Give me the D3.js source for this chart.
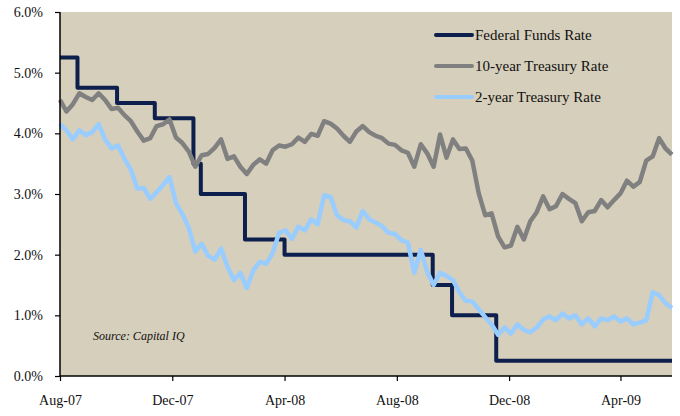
<!DOCTYPE html>
<html>
<head>
<meta charset="utf-8">
<script src="https://cdn.jsdelivr.net/npm/d3@7"></script>
<style>
  body { margin: 0; background: #fff; }
  text { font-family: "Liberation Serif", "Times New Roman", serif; fill: #111; }
</style>
</head>
<body>
<div class="canva"></div>
<script>
// weekly dates (thursdays) for the treasury series
const weeks = [
  '2007-08-30','2007-09-06','2007-09-13','2007-09-20','2007-09-27','2007-10-04','2007-10-11','2007-10-18','2007-10-25',
  '2007-11-01','2007-11-08','2007-11-15','2007-11-22','2007-11-29','2007-12-06','2007-12-13','2007-12-20','2007-12-27',
  '2008-01-03','2008-01-10','2008-01-17','2008-01-24','2008-01-31','2008-02-07','2008-02-14','2008-02-21','2008-02-28',
  '2008-03-06','2008-03-13','2008-03-20','2008-03-27','2008-04-03','2008-04-10','2008-04-17','2008-04-24',
  '2008-05-01','2008-05-08','2008-05-15','2008-05-22','2008-05-29','2008-06-05','2008-06-12','2008-06-19','2008-06-26',
  '2008-07-03','2008-07-10','2008-07-17','2008-07-24','2008-07-31','2008-08-07','2008-08-14','2008-08-21','2008-08-28',
  '2008-09-04','2008-09-11','2008-09-18','2008-09-25','2008-10-02','2008-10-09','2008-10-16','2008-10-23','2008-10-30',
  '2008-11-06','2008-11-13','2008-11-20','2008-11-27','2008-12-04','2008-12-11','2008-12-18','2008-12-25',
  '2009-01-01','2009-01-08','2009-01-15','2009-01-22','2009-01-29','2009-02-05','2009-02-12','2009-02-19','2009-02-26',
  '2009-03-05','2009-03-12','2009-03-19','2009-03-26','2009-04-02','2009-04-09','2009-04-16','2009-04-23','2009-04-30',
  '2009-05-07','2009-05-14','2009-05-21','2009-05-28','2009-06-04','2009-06-11','2009-06-18','2009-06-25'
];

// 10-year treasury (%)
const tenYear = [
  4.55,4.36,4.48,4.66,4.60,4.55,4.66,4.55,4.40,4.42,4.30,4.20,4.03,3.88,3.92,4.12,4.15,4.23,
  3.93,3.84,3.70,3.45,3.64,3.66,3.76,3.90,3.58,3.62,3.45,3.33,3.48,3.57,3.50,3.72,3.80,
  3.78,3.82,3.93,3.86,3.99,3.96,4.20,4.16,4.08,3.96,3.86,4.03,4.12,4.02,3.96,3.92,3.83,3.81,
  3.72,3.68,3.45,3.82,3.67,3.45,3.98,3.60,3.90,3.74,3.75,3.55,3.01,2.65,2.68,2.30,2.12,
  2.15,2.46,2.25,2.55,2.70,2.96,2.75,2.80,3.00,2.92,2.85,2.55,2.70,2.72,2.90,2.78,2.90,3.01,
  3.22,3.12,3.20,3.55,3.62,3.92,3.75,3.65
];

// 2-year treasury (%)
const twoYear = [
  4.15,4.05,3.90,4.05,3.97,4.02,4.15,3.90,3.75,3.80,3.58,3.40,3.09,3.10,2.92,3.03,3.15,3.28,
  2.85,2.67,2.44,2.05,2.18,1.98,1.92,2.10,1.80,1.58,1.70,1.45,1.74,1.88,1.85,2.02,2.36,
  2.40,2.26,2.46,2.40,2.58,2.50,2.98,2.95,2.65,2.57,2.55,2.45,2.72,2.58,2.53,2.47,2.36,2.34,
  2.24,2.20,1.70,2.08,1.72,1.50,1.70,1.65,1.58,1.38,1.24,1.23,1.10,0.97,0.85,0.68,0.80,
  0.70,0.85,0.76,0.72,0.80,0.93,0.98,0.92,1.03,0.95,1.00,0.85,0.95,0.82,0.95,0.92,0.98,0.90,
  0.95,0.85,0.88,0.92,1.38,1.33,1.20,1.12
];

// federal funds target: date of change and new rate
const fedDates = ['2007-08-30','2007-09-18','2007-10-31','2007-12-11','2008-01-22','2008-01-30',
  '2008-03-18','2008-04-30','2008-10-08','2008-10-29','2008-12-16','2009-06-25'];
const fedRates = [5.25,4.75,4.50,4.25,3.50,3.00,2.25,2.00,1.50,1.00,0.25,0.25];

const tickDates = ['2007-08-30','2007-12-30','2008-04-30','2008-08-30','2008-12-30','2009-04-30'];
const tickLabels = ['Aug-07','Dec-07','Apr-08','Aug-08','Dec-08','Apr-09'];
const yTicks = [0,1,2,3,4,5,6];

const seriesNames = ['Federal Funds Rate','10-year Treasury Rate','2-year Treasury Rate'];
const colors = ['#0d1f4d','#808080','#99ccff'];
const widths = [4, 4.5, 4.5];

const parse = d3.timeParse('%Y-%m-%d');

const svg = d3.select('.canva').append('svg') // the whole picture
  .attr('width', 680)
  .attr('height', 416);

const x = d3.scaleTime()
  .domain([parse('2007-08-30'), parse('2009-06-25')])
  .range([60, 672]);

const y = d3.scaleLinear()
  .domain([0, 6])
  .range([376, 12]);

// plot background
svg.append('rect')
  .attr('x', x.range()[0])
  .attr('y', y(6))
  .attr('width', x.range()[1] - x.range()[0])
  .attr('height', y(0) - y(6))
  .attr('fill', '#d6cfbb');

// lines
const line = d3.line()
  .x(d => x(d.date))
  .y(d => y(d.v));

const fed = fedDates.map((d, i) => ({ date: parse(d), v: fedRates[i] }));
const ten = weeks.map((d, i) => ({ date: parse(d), v: tenYear[i] }));
const two = weeks.map((d, i) => ({ date: parse(d), v: twoYear[i] }));

[fed, ten, two].forEach((s, i) => {
  svg.append('path')
    .datum(s)
    .attr('d', line.curve(i == 0 ? d3.curveStepAfter : d3.curveLinear))
    .attr('fill', 'none')
    .attr('stroke', colors[i])
    .attr('stroke-width', widths[i])
    .attr('stroke-linejoin', 'round');
});

// y axis
const yAxis = d3.axisLeft(y)
  .tickValues(yTicks)
  .tickSize(5)
  .tickPadding(12)
  .tickFormat(d => d.toFixed(1) + '%');

const gy = svg.append('g')
  .attr('transform', 'translate(' + x.range()[0] + ',0)')
  .call(yAxis);

// x axis
const xAxis = d3.axisBottom(x)
  .tickValues(tickDates.map(parse))
  .tickSize(5)
  .tickPadding(14)
  .tickFormat((d, i) => tickLabels[i]);

const gx = svg.append('g')
  .attr('transform', 'translate(0,' + y(0) + ')')
  .call(xAxis);

[gy, gx].forEach(g => {
  g.selectAll('.domain').attr('stroke', '#000').attr('stroke-width', 1.5);
  g.selectAll('.tick line').attr('stroke', '#000').attr('stroke-width', 1.2);
  g.selectAll('text').style('font-size', '14px').attr('fill', '#111');
});
gy.select('.domain').attr('d', 'M0,' + y(6) + 'V' + y(0));
gx.select('.domain').attr('d', 'M' + x.range()[0] + ',0H' + x.range()[1]);

// legend
const legend = svg.selectAll('g.legend')
  .data(seriesNames)
  .enter()
  .append('g')
  .attr('class', 'legend')
  .attr('transform', (d, i) => 'translate(436,' + (35 + i * 31) + ')');

legend.append('line')
  .attr('x1', 0)
  .attr('x2', 36)
  .attr('stroke', (d, i) => colors[i])
  .attr('stroke-width', 4)
  .attr('stroke-linecap', 'round');

legend.append('text')
  .attr('x', 39)
  .attr('dy', '0.35em')
  .style('font-size', '15px')
  .text(d => d);

// source note
svg.append('text')
  .attr('x', 93)
  .attr('y', 340)
  .style('font-size', '12px')
  .style('font-style', 'italic')
  .text('Source: Capital IQ');
</script>
</body>
</html>
